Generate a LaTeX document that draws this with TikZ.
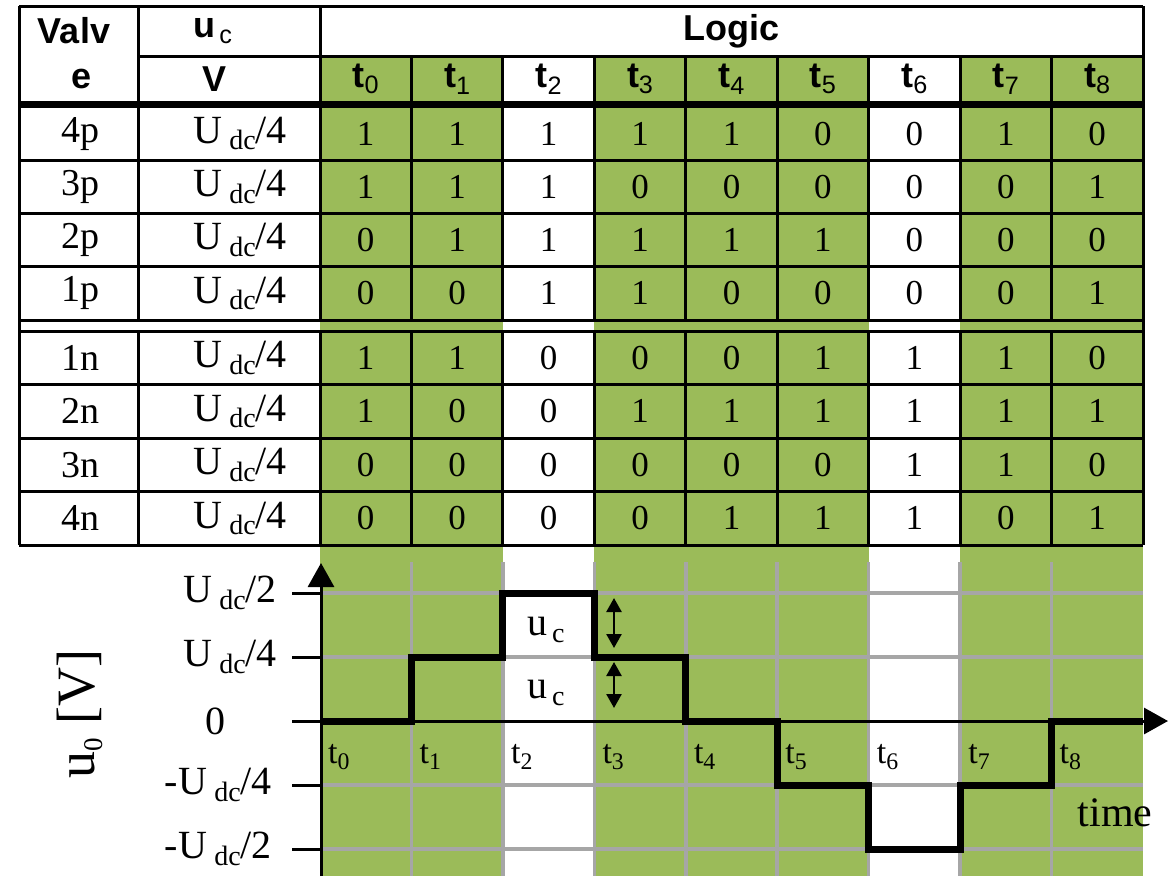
\documentclass[tikz,border=0pt]{standalone}
\usepackage{fontspec}
\setmainfont{Liberation Serif}
\setsansfont{Liberation Sans}
\usetikzlibrary{arrows.meta}

\definecolor{cellgreen}{RGB}{155,187,89}
\definecolor{gridgray}{RGB}{166,166,166}

\newcommand{\lsub}[1]{\raisebox{-0.35ex}{\scalebox{0.7}{#1}}}
\newcommand{\Udc}{U\kern0.18em\lsub{dc}}

\tikzset{
  hdr/.style={font=\sffamily\bfseries\fontsize{36}{36}\selectfont},
  val/.style={font=\fontsize{35}{35}\selectfont},
  rlbl/.style={font=\fontsize{38}{38}\selectfont},
  lbl/.style={font=\fontsize{34}{34}\selectfont},
  ulbl/.style={font=\fontsize{40}{40}\selectfont},
  tabline/.style={line width=3pt},
  grd/.style={gridgray,line width=3.5pt},
  wave/.style={line width=7pt},
  axis/.style={line width=3pt,-{Triangle[length=24pt,width=26pt]}},
  dbl/.style={line width=2.5pt,{Triangle[length=14pt,width=15pt]}-{Triangle[length=14pt,width=15pt]}}
}

\begin{document}
\begin{tikzpicture}[x=1pt,y=-1pt]
   \useasboundingbox (0,0) rectangle (1175,876);
   % green columns (t0,t1 / t3,t4,t5 / t7,t8)
   \fill[cellgreen] (320,56) rectangle (502.9,876);
   \fill[cellgreen] (594.3,56) rectangle (868.6,876);
   \fill[cellgreen] (960.1,56) rectangle (1143,876);
   % white gap of the double line
   \fill[white] (19,320) rectangle (320,331);
   \fill[white] (502.9,320) rectangle (594.3,331);
   \fill[white] (868.6,320) rectangle (960.1,331);

   % table frame
   \draw[tabline] (19,6) -- (1143,6);
   \draw[tabline] (19,6) -- (19,545);
   \draw[tabline] (1143,6) -- (1143,545);
   \draw[tabline] (19,545) -- (1143,545);
   \draw[tabline] (138,56) -- (1143,56);
   \draw[line width=7pt] (19,104) -- (1143,104);
   \draw[tabline] (138,6) -- (138,320);
   \draw[tabline] (320,6) -- (320,320);
   \draw[tabline] (138,331) -- (138,545);
   \draw[tabline] (320,331) -- (320,545);
   \draw[tabline] (411.4,56) -- (411.4,320);
   \draw[tabline] (502.9,56) -- (502.9,320);
   \draw[tabline] (594.3,56) -- (594.3,320);
   \draw[tabline] (685.8,56) -- (685.8,320);
   \draw[tabline] (777.2,56) -- (777.2,320);
   \draw[tabline] (868.6,56) -- (868.6,320);
   \draw[tabline] (960.1,56) -- (960.1,320);
   \draw[tabline] (1051.5,56) -- (1051.5,320);
   \draw[tabline] (411.4,331) -- (411.4,545);
   \draw[tabline] (502.9,331) -- (502.9,545);
   \draw[tabline] (594.3,331) -- (594.3,545);
   \draw[tabline] (685.8,331) -- (685.8,545);
   \draw[tabline] (777.2,331) -- (777.2,545);
   \draw[tabline] (868.6,331) -- (868.6,545);
   \draw[tabline] (960.1,331) -- (960.1,545);
   \draw[tabline] (1051.5,331) -- (1051.5,545);
   \draw[tabline] (19,160.3) -- (1143,160.3);
   \draw[tabline] (19,213.5) -- (1143,213.5);
   \draw[tabline] (19,266.8) -- (1143,266.8);
   \draw[tabline] (19,320) -- (1143,320);
   \draw[tabline] (19,331) -- (1143,331);
   \draw[tabline] (19,384.5) -- (1143,384.5);
   \draw[tabline] (19,438) -- (1143,438);
   \draw[tabline] (19,491.5) -- (1143,491.5);

   % header
   \draw (74,31) node[hdr] (valv) {Valv};
   \draw (82,79) node[hdr] (valve) {e};
   \draw (213,31) node[hdr] (uchead) {u\kern0.1em\lsub{\mdseries c}};
   \draw (215,79) node[hdr] (vhead) {V};
   \draw (731.5,31) node[hdr] (logic) {Logic};
   \draw (365.7,79) node[hdr] (h0) {t\lsub{\mdseries 0}};
   \draw (457.1,79) node[hdr] (h1) {t\lsub{\mdseries 1}};
   \draw (548.6,79) node[hdr] (h2) {t\lsub{\mdseries 2}};
   \draw (640.0,79) node[hdr] (h3) {t\lsub{\mdseries 3}};
   \draw (731.5,79) node[hdr] (h4) {t\lsub{\mdseries 4}};
   \draw (822.9,79) node[hdr] (h5) {t\lsub{\mdseries 5}};
   \draw (914.3,79) node[hdr] (h6) {t\lsub{\mdseries 6}};
   \draw (1005.8,79) node[hdr] (h7) {t\lsub{\mdseries 7}};
   \draw (1097.2,79) node[hdr] (h8) {t\lsub{\mdseries 8}};

   % rows
   \draw (80,133.6) node[rlbl] (r4p) {4p} (240,133.6) node[ulbl] (u4p) {\Udc/4}
     (365.7,133.6) node[val] (c4p0) {1} (457.1,133.6) node[val] (c4p1) {1} (548.6,133.6) node[val] (c4p2) {1}
     (640.0,133.6) node[val] (c4p3) {1} (731.5,133.6) node[val] (c4p4) {1} (822.9,133.6) node[val] (c4p5) {0}
     (914.3,133.6) node[val] (c4p6) {0} (1005.8,133.6) node[val] (c4p7) {1} (1097.2,133.6) node[val] (c4p8) {0};
   \draw (80,186.9) node[rlbl] (r3p) {3p} (240,186.9) node[ulbl] (u3p) {\Udc/4}
     (365.7,186.9) node[val] (c3p0) {1} (457.1,186.9) node[val] (c3p1) {1} (548.6,186.9) node[val] (c3p2) {1}
     (640.0,186.9) node[val] (c3p3) {0} (731.5,186.9) node[val] (c3p4) {0} (822.9,186.9) node[val] (c3p5) {0}
     (914.3,186.9) node[val] (c3p6) {0} (1005.8,186.9) node[val] (c3p7) {0} (1097.2,186.9) node[val] (c3p8) {1};
   \draw (80,240.1) node[rlbl] (r2p) {2p} (240,240.1) node[ulbl] (u2p) {\Udc/4}
     (365.7,240.1) node[val] (c2p0) {0} (457.1,240.1) node[val] (c2p1) {1} (548.6,240.1) node[val] (c2p2) {1}
     (640.0,240.1) node[val] (c2p3) {1} (731.5,240.1) node[val] (c2p4) {1} (822.9,240.1) node[val] (c2p5) {1}
     (914.3,240.1) node[val] (c2p6) {0} (1005.8,240.1) node[val] (c2p7) {0} (1097.2,240.1) node[val] (c2p8) {0};
   \draw (80,293.4) node[rlbl] (r1p) {1p} (240,293.4) node[ulbl] (u1p) {\Udc/4}
     (365.7,293.4) node[val] (c1p0) {0} (457.1,293.4) node[val] (c1p1) {0} (548.6,293.4) node[val] (c1p2) {1}
     (640.0,293.4) node[val] (c1p3) {1} (731.5,293.4) node[val] (c1p4) {0} (822.9,293.4) node[val] (c1p5) {0}
     (914.3,293.4) node[val] (c1p6) {0} (1005.8,293.4) node[val] (c1p7) {0} (1097.2,293.4) node[val] (c1p8) {1};
   \draw (80,357.8) node[rlbl] (r1n) {1n} (240,357.8) node[ulbl] (u1n) {\Udc/4}
     (365.7,357.8) node[val] (c1n0) {1} (457.1,357.8) node[val] (c1n1) {1} (548.6,357.8) node[val] (c1n2) {0}
     (640.0,357.8) node[val] (c1n3) {0} (731.5,357.8) node[val] (c1n4) {0} (822.9,357.8) node[val] (c1n5) {1}
     (914.3,357.8) node[val] (c1n6) {1} (1005.8,357.8) node[val] (c1n7) {1} (1097.2,357.8) node[val] (c1n8) {0};
   \draw (80,411.3) node[rlbl] (r2n) {2n} (240,411.3) node[ulbl] (u2n) {\Udc/4}
     (365.7,411.3) node[val] (c2n0) {1} (457.1,411.3) node[val] (c2n1) {0} (548.6,411.3) node[val] (c2n2) {0}
     (640.0,411.3) node[val] (c2n3) {1} (731.5,411.3) node[val] (c2n4) {1} (822.9,411.3) node[val] (c2n5) {1}
     (914.3,411.3) node[val] (c2n6) {1} (1005.8,411.3) node[val] (c2n7) {1} (1097.2,411.3) node[val] (c2n8) {1};
   \draw (80,464.8) node[rlbl] (r3n) {3n} (240,464.8) node[ulbl] (u3n) {\Udc/4}
     (365.7,464.8) node[val] (c3n0) {0} (457.1,464.8) node[val] (c3n1) {0} (548.6,464.8) node[val] (c3n2) {0}
     (640.0,464.8) node[val] (c3n3) {0} (731.5,464.8) node[val] (c3n4) {0} (822.9,464.8) node[val] (c3n5) {0}
     (914.3,464.8) node[val] (c3n6) {1} (1005.8,464.8) node[val] (c3n7) {1} (1097.2,464.8) node[val] (c3n8) {0};
   \draw (80,518.3) node[rlbl] (r4n) {4n} (240,518.3) node[ulbl] (u4n) {\Udc/4}
     (365.7,518.3) node[val] (c4n0) {0} (457.1,518.3) node[val] (c4n1) {0} (548.6,518.3) node[val] (c4n2) {0}
     (640.0,518.3) node[val] (c4n3) {0} (731.5,518.3) node[val] (c4n4) {1} (822.9,518.3) node[val] (c4n5) {1}
     (914.3,518.3) node[val] (c4n6) {1} (1005.8,518.3) node[val] (c4n7) {0} (1097.2,518.3) node[val] (c4n8) {1};

   % plot grid
   \draw[grd] (320,593) -- (1143,593);
   \draw[grd] (320,657) -- (1143,657);
   \draw[grd] (320,785) -- (1143,785);
   \draw[grd] (320,849) -- (1143,849);
   \draw[grd] (411.4,562) -- (411.4,876);
   \draw[grd] (502.9,562) -- (502.9,876);
   \draw[grd] (594.3,562) -- (594.3,876);
   \draw[grd] (685.8,562) -- (685.8,876);
   \draw[grd] (777.2,562) -- (777.2,876);
   \draw[grd] (868.6,562) -- (868.6,876);
   \draw[grd] (960.1,562) -- (960.1,876);
   \draw[grd] (1051.5,562) -- (1051.5,876);

   % axes and ticks
   \draw[axis] (321,876) -- (321,563);
   \draw[axis] (320,721) -- (1168,721);
   \draw[tabline] (292,593) -- (321,593);
   \draw[tabline] (292,657) -- (321,657);
   \draw[tabline] (292,721) -- (321,721);
   \draw[tabline] (292,785) -- (321,785);
   \draw[tabline] (292,849) -- (321,849);
   \draw (277,593) node[ulbl,anchor=east,inner sep=0pt] (yl1) {\Udc/2};
   \draw (277,657) node[ulbl,anchor=east,inner sep=0pt] (yl2) {\Udc/4};
   \draw (215,721) node[ulbl] (yl3) {0};
   \draw (272,785) node[ulbl,anchor=east,inner sep=0pt] (yl4) {-\Udc/4};
   \draw (272,849) node[ulbl,anchor=east,inner sep=0pt] (yl5) {-\Udc/2};
   \draw (80,714) node[rotate=90,font=\fontsize{54}{54}\selectfont] (ylab) {u\raisebox{-0.3ex}{\scalebox{0.5}{0}} [V]};

   % output voltage
   \draw[wave] (320,721) -- (411.4,721) -- (411.4,657) -- (502.9,657) -- (502.9,593) -- (594.3,593)
     -- (594.3,657) -- (685.8,657) -- (685.8,721) -- (777.2,721) -- (777.2,785) -- (868.6,785)
     -- (868.6,849) -- (960.1,849) -- (960.1,785) -- (1051.5,785) -- (1051.5,721) -- (1143,721);

   % step heights
   \coordinate (a1) at (614,598);
   \coordinate (a2) at (614,648);
   \coordinate (a3) at (614,662);
   \coordinate (a4) at (614,708);
   \draw[dbl] (a1) -- (a2);
   \draw[dbl] (a3) -- (a4);
   \draw (546,630) node[font=\fontsize{40}{40}\selectfont] (uc1) {u\kern0.12em\lsub{c}};
   \draw (546,693) node[font=\fontsize{40}{40}\selectfont] (uc2) {u\kern0.12em\lsub{c}};

   % time labels
   \draw (328,757) node[lbl,anchor=west,inner sep=0pt] (p0) {t\lsub{0}};
   \draw (419.4,757) node[lbl,anchor=west,inner sep=0pt] (p1) {t\lsub{1}};
   \draw (510.9,757) node[lbl,anchor=west,inner sep=0pt] (p2) {t\lsub{2}};
   \draw (602.3,757) node[lbl,anchor=west,inner sep=0pt] (p3) {t\lsub{3}};
   \draw (693.8,757) node[lbl,anchor=west,inner sep=0pt] (p4) {t\lsub{4}};
   \draw (785.2,757) node[lbl,anchor=west,inner sep=0pt] (p5) {t\lsub{5}};
   \draw (876.6,757) node[lbl,anchor=west,inner sep=0pt] (p6) {t\lsub{6}};
   \draw (968.1,757) node[lbl,anchor=west,inner sep=0pt] (p7) {t\lsub{7}};
   \draw (1059.5,757) node[lbl,anchor=west,inner sep=0pt] (p8) {t\lsub{8}};
   \draw (1115,813) node[font=\fontsize{42}{42}\selectfont] (tlab) {time};
  \end{tikzpicture}
\end{document}
